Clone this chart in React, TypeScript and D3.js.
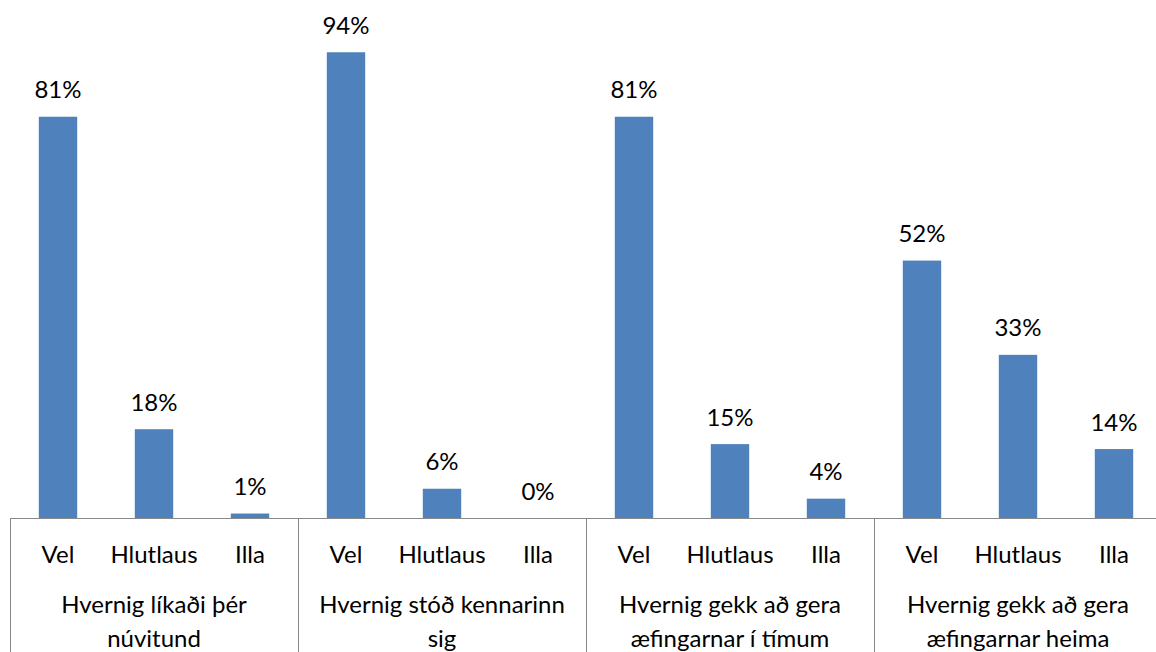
import React from "react";
import * as d3 from "d3";

// Survey questions (group labels), split into display lines
const questions = [
  "Hvernig líkaði þér\nnúvitund",
  "Hvernig stóð kennarinn\nsig",
  "Hvernig gekk að gera\næfingarnar í tímum",
  "Hvernig gekk að gera\næfingarnar heima",
];

// Answer categories within each question
const answers = ["Vel", "Hlutlaus", "Illa"];

// Share of respondents per answer, one array per question
const likedMindfulness = [0.81, 0.18, 0.01];
const teacherPerformance = [0.94, 0.06, 0.0];
const exercisesInClass = [0.81, 0.15, 0.04];
const exercisesAtHome = [0.52, 0.33, 0.14];

const seriesValues = [likedMindfulness, teacherPerformance, exercisesInClass, exercisesAtHome];

const W = 1156;
const H = 652;
const FONT = "Lato, 'Open Sans', sans-serif";

export default function App() {
  const baseY = 518.5;
  const outer = d3.scaleBand<string>().domain(questions).range([10, 1162]).padding(0);
  const inner = d3
    .scaleBand<string>()
    .domain(answers)
    .range([0, outer.bandwidth()])
    .paddingInner(0.6)
    .paddingOuter(0.3);
  const y = d3.scaleLinear().domain([0, 1]).range([baseY, 22.5]);
  const pct = d3.format(".0%");

  return (
    <svg
      width={W}
      height={H}
      style={{ position: "absolute", left: 0, top: 0, background: "#fff" }}
      fontFamily={FONT}
    >
      {questions.map((q, gi) => {
        const gx = outer(q)!;
        return (
          <g key={q}>
            {answers.map((a, ai) => {
              const v = seriesValues[gi][ai];
              const x = gx + inner(a)!;
              const cx = x + inner.bandwidth() / 2;
              return (
                <g key={a}>
                  {v > 0 && (
                    <rect x={x} y={y(v)} width={inner.bandwidth()} height={baseY - y(v)} fill="#4F81BD" />
                  )}
                  <text x={cx} y={y(v) - 18.5} textAnchor="middle" fontSize={24} fill="#000">
                    {pct(v)}
                  </text>
                  <text x={cx} y={563} textAnchor="middle" fontSize={24} fill="#000">
                    {a}
                  </text>
                </g>
              );
            })}
            {q.split("\n").map((line, li) => (
              <text
                key={li}
                x={gx + outer.bandwidth() / 2}
                y={613 + li * 34}
                textAnchor="middle"
                fontSize={24}
                fill="#000"
              >
                {line}
              </text>
            ))}
          </g>
        );
      })}
      {/* category axis line and group separators */}
      <line x1={10} x2={W} y1={baseY} y2={baseY} stroke="#888" strokeWidth={1} />
      {[...questions.map((q) => outer(q)!), outer.range()[1]].map((x, i) => (
        <line key={i} x1={x + 0.5} x2={x + 0.5} y1={baseY} y2={H} stroke="#888" strokeWidth={1} />
      ))}
    </svg>
  );
}
